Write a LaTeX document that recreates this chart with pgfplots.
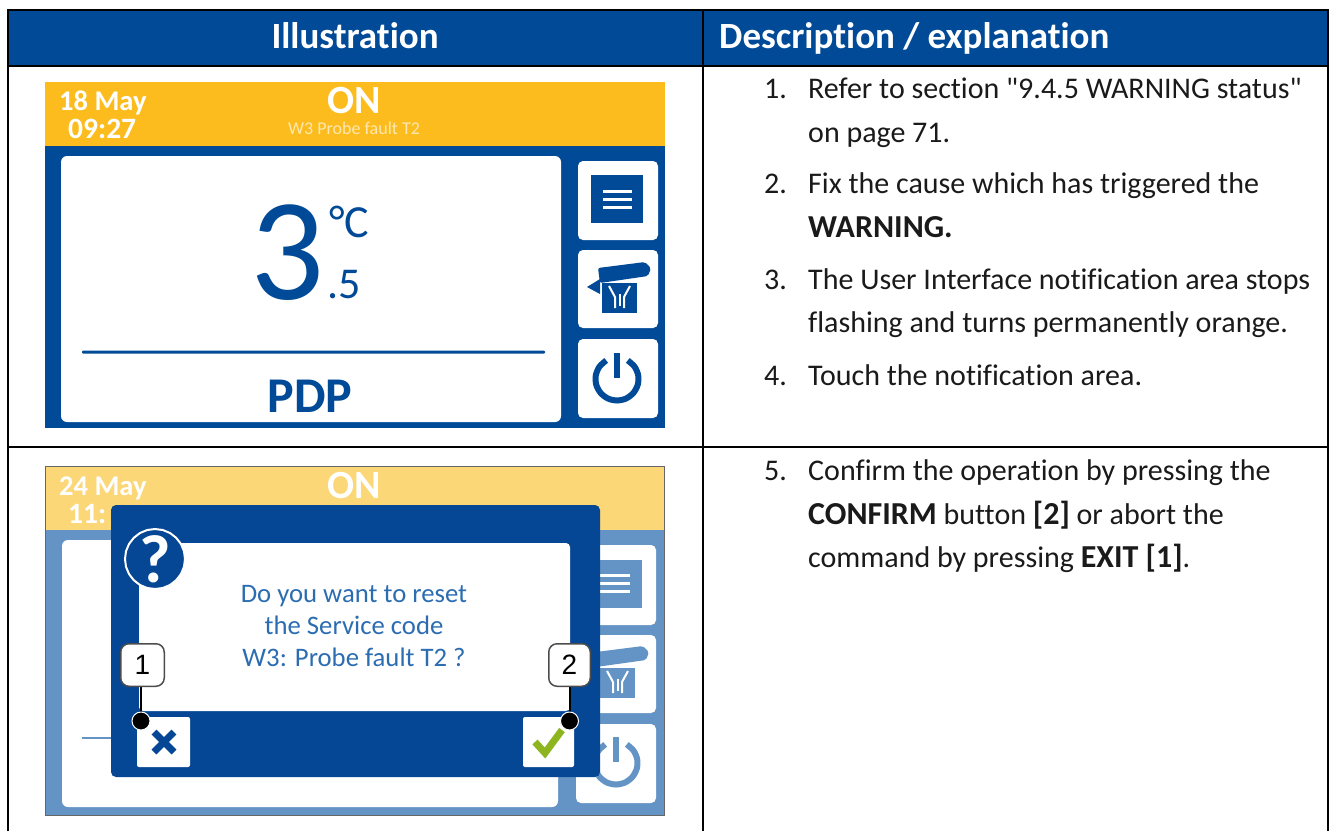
\documentclass[border=0pt]{standalone}
\usepackage{pgfplots}
\pgfplotsset{compat=1.18}
\usepackage{fontspec}
\setmainfont{Carlito}[Ligatures={TeXOff,NoCommon}]
\newfontfamily\arialf{Liberation Sans}
\definecolor{hb}{HTML}{004A97}
\definecolor{yl}{HTML}{FDBC1E}
\definecolor{ylp}{HTML}{FBD778}
\definecolor{pb}{HTML}{6494C5}
\definecolor{dl}{HTML}{064795}
\definecolor{gr}{HTML}{8DB51F}
\definecolor{tb}{HTML}{2C6DB2}
\definecolor{tx}{HTML}{1A1A1A}
% rectangle: colour, x0, y0, x1, y1, corner radius
\newcommand{\rr}[6]{\addplot[draw=none,fill=#1,rounded corners=#6pt] coordinates {(#2,#3)(#4,#3)(#4,#5)(#2,#5)} -- cycle;}
\newcommand{\tl}[5][black]{\node[anchor=base west,inner sep=0pt,text=#1,font=\fontsize{#2}{#2}\selectfont] at (axis cs:#3,#4) {#5};}
\newcommand{\tc}[5][black]{\node[anchor=base,inner sep=0pt,text=#1,font=\fontsize{#2}{#2}\selectfont] at (axis cs:#3,#4) {#5};}
\newcommand{\bt}[1]{{\fontsize{32}{32}\selectfont\bfseries #1}}
\begin{document}
\begin{tikzpicture}
\begin{axis}[hide axis,scale only axis,width=1336pt,height=831pt,
  xmin=0,xmax=1336,ymin=0,ymax=831,y dir=reverse,no markers]
\rr{white}{0}{0}{1336}{831}{0}
% table
\rr{hb}{8}{10}{1328}{66}{0}
\addplot[draw=black,line width=1.5pt] coordinates {(8,831)(8,10)(1328,10)(1328,831)};
\addplot[draw=black,line width=1.5pt] coordinates {(8,66)(1328,66)};
\addplot[draw=black,line width=1.5pt] coordinates {(8,447)(1328,447)};
\addplot[draw=black,line width=1.5pt] coordinates {(703,10)(703,831)};
\node[anchor=base,inner sep=0pt,text=white,font=\fontsize{37}{37}\selectfont\bfseries] at (axis cs:355,48) {Illustration};
\node[anchor=base west,inner sep=0pt,text=white,font=\fontsize{37}{37}\selectfont\bfseries] at (axis cs:719,48) {Description / explanation};
% body text
\tl[tx]{30}{764}{98}{1.}
\tl[tx]{30}{808}{98}{Refer to section "9.4.5 WARNING status"}
\tl[tx]{30}{808}{142}{on page 71.}
\tl[tx]{30}{764}{193}{2.}
\tl[tx]{30}{808}{193}{Fix the cause which has triggered the}
\tl[tx]{30}{808}{237}{\bt{WARNING.}}
\tl[tx]{30}{764}{289}{3.}
\tl[tx]{30}{808}{289}{The User Interface notification area stops}
\tl[tx]{30}{808}{332}{flashing and turns permanently orange.}
\tl[tx]{30}{764}{385}{4.}
\tl[tx]{30}{808}{385}{Touch the notification area.}
\tl[tx]{30}{764}{480}{5.}
\tl[tx]{30}{808}{480}{Confirm the operation by pressing the}
\tl[tx]{30}{808}{524}{\bt{CONFIRM} button \bt{[2]} or abort the}
\tl[tx]{30}{808}{567}{command by pressing \bt{EXIT [1]}.}
% screen 1
\rr{hb}{45}{146}{665}{428}{0}
\rr{yl}{45}{82}{665}{146}{0}
\rr{white}{61}{156}{561}{422}{6}
\rr{white}{578}{161}{658}{240}{5}
\rr{white}{578}{250}{658}{328}{5}
\rr{white}{578}{339}{658}{418}{5}
\rr{hb}{591}{175}{643}{223}{0}
\rr{white}{603}{189.5}{632}{192.5}{0}
\rr{white}{603}{197.5}{632}{200.5}{0}
\rr{white}{603}{205.5}{632}{208.5}{0}
% dryer icon
\addplot[draw=none,fill=hb,rounded corners=2pt] coordinates {(598,268)(645,262)(651,268)(648,276)(600,283)} -- cycle;
\rr{hb}{602}{283}{637}{313}{0}
\addplot[draw=none,fill=hb] coordinates {(587,287)(600,279)(600,294)} -- cycle;
\addplot[draw=white,line width=2pt] coordinates {(609,286)(615,297)(615,308)};
\addplot[draw=white,line width=2pt] coordinates {(630,286)(624,297)(624,308)};
\addplot[draw=white,line width=2pt] coordinates {(619.5,294)(619.5,306)};
% power icon
\addplot[draw=hb,line width=6pt,smooth] coordinates {(627.8,360.4)(634.6,366.7)(638.2,375.3)(637.8,384.6)(633.5,392.8)(626.1,398.5)(617,400.5)(607.9,398.5)(600.5,392.8)(596.2,384.6)(595.8,375.3)(599.4,366.7)(606.2,360.4)};
\addplot[draw=hb,line width=6pt] coordinates {(617,353)(617,378)};
\rr{hb}{82}{350.5}{545}{353.5}{1}
\tl[white]{28.5}{59}{110}{\textbf{18 May}}
\tl[white]{29.5}{68}{138}{\textbf{09:27}}
\node[anchor=base,inner sep=0pt,text=white,font=\fontsize{40}{40}\selectfont\bfseries] at (axis cs:354,113) {ON};
\tc[white!65!yl]{18}{354}{134}{W3 Probe fault T2}
\node[anchor=base west,inner sep=0pt,text=hb,font=\fontsize{146}{146}\selectfont] at (axis cs:250,299) {3};
\node[anchor=base west,inner sep=0pt,text=hb,font=\fontsize{46}{46}\selectfont] at (axis cs:329,237) {°C};
\node[anchor=base west,inner sep=0pt,text=hb,font=\fontsize{44}{44}\selectfont] at (axis cs:327,298) {.5};
\node[anchor=base,inner sep=0pt,text=hb,font=\fontsize{50}{50}\selectfont\bfseries] at (axis cs:310,412) {PDP};
% screen 2
\rr{pb}{45}{530}{664}{815}{0}
\rr{ylp}{45}{466}{664}{530}{0}
\addplot[draw=black!60,line width=1pt] coordinates {(45,466)(664,466)(664,815)(45,815)} -- cycle;
\rr{white}{62}{540}{558}{807}{6}
\rr{white}{576}{545}{656}{625}{5}
\rr{white}{576}{635}{656}{713}{5}
\rr{white}{576}{724}{656}{803}{5}
\rr{pb}{590}{560}{642}{608}{0}
\rr{white}{600}{573.5}{630}{576.5}{0}
\rr{white}{600}{581.5}{630}{584.5}{0}
\rr{white}{600}{589.5}{630}{592.5}{0}
\addplot[draw=none,fill=pb,rounded corners=2pt] coordinates {(596,652)(643,646)(649,652)(646,660)(596,667)} -- cycle;
\rr{pb}{600}{668}{635}{698}{0}
\addplot[draw=white,line width=2pt] coordinates {(607,671)(613,682)(613,693)};
\addplot[draw=white,line width=2pt] coordinates {(628,671)(622,682)(622,693)};
\addplot[draw=white,line width=2pt] coordinates {(617.5,679)(617.5,691)};
\addplot[draw=pb,line width=6pt,smooth] coordinates {(626.8,744.4)(633.6,750.7)(637.2,759.3)(636.8,768.6)(632.5,776.8)(625.1,782.5)(616,784.5)(606.9,782.5)(599.5,776.8)(595.2,768.6)(594.8,759.3)(598.4,750.7)(605.2,744.4)};
\addplot[draw=pb,line width=6pt] coordinates {(616,737)(616,762)};
\addplot[draw=pb,line width=2pt] coordinates {(82,738)(115,738)};
\tl[white]{28.5}{59}{495}{\textbf{24 May}}
\tl[white]{29.5}{68}{523}{\textbf{11:}}
\node[anchor=base,inner sep=0pt,text=white,font=\fontsize{40}{40}\selectfont\bfseries] at (axis cs:354,498) {ON};
% dialog
\rr{dl}{111}{505}{600}{777}{5}
\rr{white}{139}{543}{570}{711}{4}
\addplot[draw=white,fill=dl,line width=2pt] coordinates {(185,559)(184,566.8)(181,574)(176.2,580.2)(170,585)(162.8,588)(155,589)(147.2,588)(140,585)(133.8,580.2)(129,574)(126,566.8)(125,559)(126,551.2)(129,544)(133.8,537.8)(140,533)(147.2,530)(155,529)(162.8,530)(170,533)(176.2,537.8)(181,544)(184,551.2)} -- cycle;
\node[anchor=center,inner sep=0pt,text=white,font=\fontsize{68}{68}\selectfont\bfseries] at (axis cs:155,559) {?};
\tc[tb]{26.7}{354}{602}{Do you want to reset}
\tc[tb]{26.7}{354}{634}{the Service code}
\tc[tb]{26.7}{354}{666}{W3: Probe fault T2 ?}
\rr{white}{137}{717}{190}{767}{2}
\rr{white}{523}{717}{574}{767}{2}
\addplot[draw=dl,line width=7pt] coordinates {(154,732)(174,752)};
\addplot[draw=dl,line width=7pt] coordinates {(174,732)(154,752)};
\addplot[draw=gr,line width=7pt] coordinates {(535,742)(545,753)(562,730)};
% callouts
\addplot[draw=black,line width=2pt] coordinates {(141,685)(141,721)};
\addplot[draw=black,line width=2pt] coordinates {(569.5,685)(569.5,721)};
\addplot[only marks,mark=*,mark size=9pt,mark options={draw=white,fill=black,line width=1pt}] coordinates {(141,721)(569.5,721)};
\rr{black!70}{120}{643}{165}{687}{9}
\rr{white}{121.5}{644.5}{163.5}{685.5}{8}
\rr{black!70}{548}{643}{591}{687}{9}
\rr{white}{549.5}{644.5}{589.5}{685.5}{8}
\node[anchor=center,inner sep=0pt,font=\fontsize{28}{28}\selectfont\arialf] at (axis cs:142.5,665) {1};
\node[anchor=center,inner sep=0pt,font=\fontsize{28}{28}\selectfont\arialf] at (axis cs:569.5,665) {2};
\end{axis}
\end{tikzpicture}
\end{document}
